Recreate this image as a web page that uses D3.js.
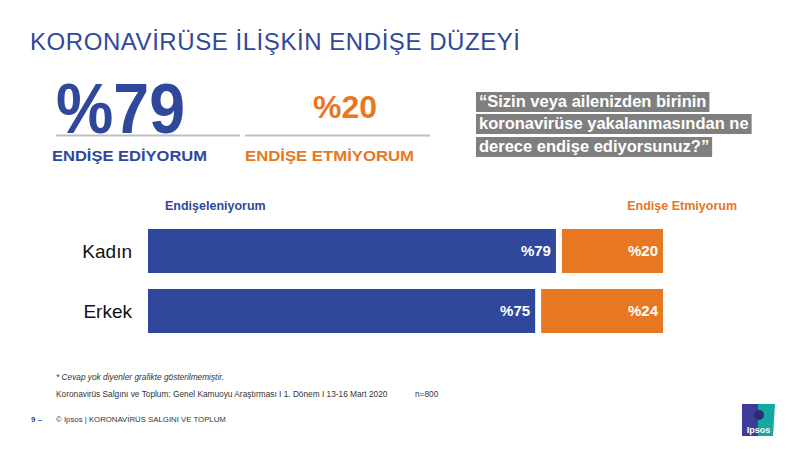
<!DOCTYPE html>
<html><head><meta charset="utf-8">
<script src="https://cdn.jsdelivr.net/npm/d3@7"></script>
<style>body{margin:0;background:#fff}svg{display:block;font-family:"Liberation Sans",Arial,sans-serif}</style>
</head><body><svg id="c" width="800" height="450"></svg>
<script>
const categories = ["Kadın", "Erkek"];
const seriesNames = ["Endişeleniyorum", "Endişe Etmiyorum"];
const worried = [79, 75];
const notWorried = [20, 24];
const totalWorried = 79, totalNotWorried = 20;
const questionLines = ["“Sizin veya ailenizden birinin", "koronavirüse yakalanmasından  ne", "derece endişe ediyorsunuz?”"];

const BLUE = "#30489c", ORANGE = "#e87722";
const svg = d3.select("#c");

svg.append("text").attr("x", 30).attr("y", 50).attr("font-size", 24).attr("fill", BLUE)
  .attr("textLength", 490).attr("lengthAdjust", "spacing").text("KORONAVİRÜSE İLİŞKİN ENDİŞE DÜZEYİ");

// KPI block
svg.append("text").attr("x", 56).attr("y", 133).attr("font-size", 70).attr("font-weight", "bold")
  .attr("fill", BLUE).attr("textLength", 129).attr("lengthAdjust", "spacingAndGlyphs").text("%" + totalWorried);
svg.append("text").attr("x", 345).attr("y", 118).attr("text-anchor", "middle").attr("font-size", 32)
  .attr("font-weight", "bold").attr("fill", ORANGE).text("%" + totalNotWorried);
svg.append("line").attr("x1", 56).attr("x2", 240).attr("y1", 135.5).attr("y2", 135.5).attr("stroke", "#bfbfbf").attr("stroke-width", 2);
svg.append("line").attr("x1", 245).attr("x2", 430).attr("y1", 135.5).attr("y2", 135.5).attr("stroke", "#bfbfbf").attr("stroke-width", 2);
svg.append("text").attr("x", 52).attr("y", 160.5).attr("font-size", 15).attr("font-weight", "bold")
  .attr("fill", BLUE).attr("textLength", 155).attr("lengthAdjust", "spacingAndGlyphs").text("ENDİŞE EDİYORUM");
svg.append("text").attr("x", 245).attr("y", 160.5).attr("font-size", 15).attr("font-weight", "bold")
  .attr("fill", ORANGE).attr("textLength", 169).attr("lengthAdjust", "spacingAndGlyphs").text("ENDİŞE ETMİYORUM");

// Question box
const qTops = [92, 114, 137];
questionLines.forEach((t, i) => {
  const g = svg.append("g");
  const tx = g.append("text").attr("x", 479).attr("y", qTops[i] + 15).attr("font-size", 16.5)
    .attr("font-weight", "bold").attr("fill", "#fff").text(t);
  const w = tx.node().getComputedTextLength();
  g.insert("rect", "text").attr("x", 476).attr("y", qTops[i]).attr("width", w + 6).attr("height", 20).attr("fill", "#7f7f7f");
});

// Bars
const x = d3.scaleLinear().domain([0, 99]).range([148, 663]);
const y = d3.scaleBand().domain(categories).range([229, 333]).paddingInner(16 / 60).paddingOuter(0);
const gap = 3;

svg.append("text").attr("x", 165).attr("y", 210).attr("font-size", 12.5).attr("font-weight", "bold")
  .attr("fill", BLUE).text(seriesNames[0]);
svg.append("text").attr("x", 737).attr("y", 210).attr("text-anchor", "end").attr("font-size", 12.5)
  .attr("font-weight", "bold").attr("fill", ORANGE).text(seriesNames[1]);

const rows = categories.map((c, i) => ({ c, a: worried[i], b: notWorried[i] }));
const g = svg.append("g");
g.selectAll(".ba").data(rows).join("rect")
  .attr("x", x(0)).attr("y", d => y(d.c)).attr("height", y.bandwidth())
  .attr("width", d => x(d.a) - x(0) - gap).attr("fill", BLUE);
g.selectAll(".bb").data(rows).join("rect")
  .attr("x", d => x(d.a) + gap).attr("y", d => y(d.c)).attr("height", y.bandwidth())
  .attr("width", d => x(d.a + d.b) - x(d.a) - gap).attr("fill", ORANGE);
g.selectAll(".la").data(rows).join("text")
  .attr("x", d => x(d.a) - gap - 5).attr("y", d => y(d.c) + y.bandwidth() / 2 + 5)
  .attr("text-anchor", "end").attr("font-size", 15).attr("font-weight", "bold").attr("fill", "#fff")
  .text(d => "%" + d.a);
g.selectAll(".lb").data(rows).join("text")
  .attr("x", d => x(d.a + d.b) - 5).attr("y", d => y(d.c) + y.bandwidth() / 2 + 5)
  .attr("text-anchor", "end").attr("font-size", 15).attr("font-weight", "bold").attr("fill", "#fff")
  .text(d => "%" + d.b);
g.selectAll(".cat").data(rows).join("text")
  .attr("x", 132).attr("y", d => y(d.c) + y.bandwidth() / 2 + 7)
  .attr("text-anchor", "end").attr("font-size", 19).attr("fill", "#111")
  .text(d => d.c);

// Footnotes
svg.append("text").attr("x", 56).attr("y", 380).attr("font-size", 8.3).attr("font-style", "italic")
  .attr("fill", "#333").text("* Cevap  yok diyenler grafikte gösterilmemiştir.");
svg.append("text").attr("x", 56).attr("y", 397).attr("font-size", 8.3).attr("fill", "#333")
  .text("Koronavirüs Salgını ve Toplum:  Genel Kamuoyu Araştırması I 1. Dönem I 13-16 Mart 2020");
svg.append("text").attr("x", 415).attr("y", 397).attr("font-size", 8.3).attr("fill", "#333").text("n=800");
svg.append("text").attr("x", 31).attr("y", 422).attr("font-size", 8).attr("font-weight", "bold").attr("fill", BLUE).text("9 –");
svg.append("text").attr("x", 56).attr("y", 422).attr("font-size", 7.8).attr("fill", "#333")
  .text("© Ipsos | KORONAVİRÜS  SALGINI  VE TOPLUM");

// Ipsos logo
const lg = svg.append("g").attr("transform", "translate(742,404)");
lg.append("rect").attr("width", 16).attr("height", 32).attr("fill", "#3d3d99");
lg.append("path").attr("d", "M16,0 H33 L31,32 H16 Z").attr("fill", "#14a89e");
lg.append("circle").attr("cx", 17).attr("cy", 11).attr("r", 5).attr("fill", "#2b2b7a");
lg.append("text").attr("x", 16.5).attr("y", 29).attr("text-anchor", "middle").attr("font-size", 9)
  .attr("font-weight", "bold").attr("fill", "#fff").text("Ipsos");
</script></body></html>
